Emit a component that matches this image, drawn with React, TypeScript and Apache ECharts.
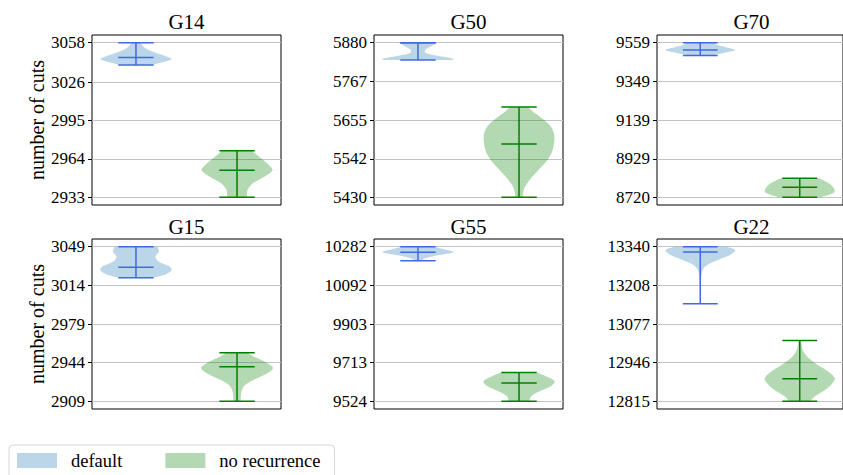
import React, { useEffect, useRef } from "react";
import * as echarts from "echarts";

// ---------- data ----------
const PANEL_NAMES = ["G14", "G50", "G70", "G15", "G55", "G22"];
const SERIES_NAMES = ["default", "no recurrence"];
const POSITIONS = [1, 2];

const TICKS = [
  [2933, 2964, 2995, 3026, 3058],
  [5430, 5542, 5655, 5767, 5880],
  [8720, 8929, 9139, 9349, 9559],
  [2909, 2944, 2979, 3014, 3049],
  [9524, 9713, 9903, 10092, 10282],
  [12815, 12946, 13077, 13208, 13340],
];

// middle line (median) of each violin
const DEFAULT_MID = [3046.1, 5880, 9519.2, 3030.4, 10254.3, 13322];
const NOREC_MID = [2954.8, 5585.2, 8774.3, 2940.3, 9613.5, 12891.6];

// violin profiles: [value, relative half-width], from min to max
const G14_DEFAULT = [[3040, 0.45], [3043, 0.85], [3045, 1.0], [3048, 0.75], [3051, 0.45], [3054, 0.25], [3058, 0.12]];
const G14_NOREC = [[2933, 0.28], [2939, 0.3], [2944.3, 0.45], [2948.4, 0.7], [2952.4, 0.92], [2955.6, 1.0], [2960.5, 0.85], [2965.9, 0.62], [2970.7, 0.42]];
const G50_DEFAULT = [[5829.6, 0.95], [5833.5, 1.0], [5841.2, 0.6], [5849, 0.25], [5858.7, 0.2], [5868.4, 0.35], [5880, 0.55]];
const G50_NOREC = [[5430, 0.1], [5456.2, 0.15], [5480.4, 0.3], [5509.5, 0.55], [5538.6, 0.8], [5567.7, 0.95], [5606.5, 1.0], [5635.6, 0.9], [5659.9, 0.65], [5679.3, 0.4], [5692.8, 0.25]];
const G70_DEFAULT = [[9490.3, 0.35], [9504.8, 0.7], [9519.2, 1.0], [9533.7, 0.75], [9546.3, 0.5], [9559, 0.4]];
const G70_NOREC = [[8720, 0.6], [8741.7, 0.95], [8759.7, 1.0], [8786.9, 0.9], [8805, 0.75], [8823.1, 0.55]];
const G15_DEFAULT = [[3020.8, 0.45], [3023.5, 0.8], [3027.4, 1.0], [3031, 0.95], [3035.5, 0.65], [3040, 0.55], [3044.5, 0.65], [3049, 0.6]];
const G15_NOREC = [[2909, 0.1], [2916.8, 0.12], [2922.8, 0.2], [2927.3, 0.4], [2931.8, 0.7], [2936.3, 0.95], [2940.3, 1.0], [2945.4, 0.75], [2949.9, 0.45], [2952.9, 0.3]];
const G55_DEFAULT = [[10213.7, 0.08], [10225.1, 0.2], [10238.1, 0.5], [10254.3, 1.0], [10269, 0.75], [10282, 0.45]];
const G55_NOREC = [[9524, 0.3], [9550, 0.35], [9574.4, 0.6], [9598.8, 0.9], [9623.2, 1.0], [9647.6, 0.75], [9665.5, 0.5]];
const G22_DEFAULT = [[13146.2, 0.01], [13193.5, 0.02], [13238.6, 0.03], [13261.1, 0.07], [13278, 0.2], [13294.9, 0.5], [13311.8, 0.85], [13328.7, 1.0], [13340, 0.75]];
const G22_NOREC = [[12815, 0.3], [12833, 0.45], [12855.5, 0.75], [12878.1, 0.95], [12895, 1.0], [12917.5, 0.8], [12940, 0.5], [12962.6, 0.25], [12985.1, 0.1], [13007.7, 0.05], [13021.2, 0.04]];

const DEFAULT_PROFILES = [G14_DEFAULT, G50_DEFAULT, G70_DEFAULT, G15_DEFAULT, G55_DEFAULT, G22_DEFAULT];
const NOREC_PROFILES = [G14_NOREC, G50_NOREC, G70_NOREC, G15_NOREC, G55_NOREC, G22_NOREC];

// ---------- style ----------
const FONT = "'Liberation Serif', 'DejaVu Serif', serif";
const FILLS = ["rgba(31,119,180,0.3)", "rgba(0,128,0,0.3)"];
const LINES = ["#4169e1", "#008000"];
const HALF = 0.35;
const CAP = 0.175;
const GRID_LEFT = [92, 374, 657];
const GRID_TOP = [35, 239];
const GRID_W = 189;
const GRID_H = 170;

function smoothProfile(p: number[][]): number[][] {
  const out: number[][] = [];
  const n = p.length;
  const steps = 8;
  for (let i = 0; i < n - 1; i++) {
    const p0 = p[Math.max(0, i - 1)];
    const p1 = p[i];
    const p2 = p[i + 1];
    const p3 = p[Math.min(n - 1, i + 2)];
    for (let s = 0; s < steps; s++) {
      const t = s / steps;
      const t2 = t * t;
      const t3 = t2 * t;
      const f = (a: number, b: number, c: number, d: number) =>
        0.5 * (2 * b + (-a + c) * t + (2 * a - 5 * b + 4 * c - d) * t2 + (-a + 3 * b - 3 * c + d) * t3);
      out.push([f(p0[0], p1[0], p2[0], p3[0]), Math.max(0.004, f(p0[1], p1[1], p2[1], p3[1]))]);
    }
  }
  out.push(p[n - 1]);
  return out;
}

function makeRender(profile: number[][], mid: number, pos: number, lineColor: string, fill: string) {
  return (_params: any, api: any) => {
    const pts = smoothProfile(profile);
    const right = pts.map(([v, w]) => api.coord([pos + HALF * w, v]));
    const left = pts.slice().reverse().map(([v, w]) => api.coord([pos - HALF * w, v]));
    const vmin = profile[0][0];
    const vmax = profile[profile.length - 1][0];
    const line = (x1: number, y1: number, x2: number, y2: number) => {
      const a = api.coord([x1, y1]);
      const b = api.coord([x2, y2]);
      return {
        type: "line",
        shape: { x1: a[0], y1: a[1], x2: b[0], y2: b[1] },
        style: { stroke: lineColor, lineWidth: 1.5 },
      };
    };
    return {
      type: "group",
      children: [
        { type: "polygon", shape: { points: right.concat(left) }, style: { fill, stroke: "none" } },
        line(pos, vmin, pos, vmax),
        line(pos - CAP, vmin, pos + CAP, vmin),
        line(pos - CAP, vmax, pos + CAP, vmax),
        line(pos - CAP, mid, pos + CAP, mid),
      ],
    };
  };
}

export default function App() {
  const ref = useRef<HTMLDivElement>(null);
  useEffect(() => {
    if (!ref.current) return;
    const chart = echarts.init(ref.current, null, { renderer: "svg" });
    const grids: any[] = [];
    const xAxes: any[] = [];
    const yAxes: any[] = [];
    const series: any[] = [];
    const graphics: any[] = [];
    PANEL_NAMES.forEach((name, i) => {
      const col = i % 3;
      const row = Math.floor(i / 3);
      const ticks = TICKS[i];
      const lo = ticks[0];
      const hi = ticks[ticks.length - 1];
      const pad = (hi - lo) * 0.05;
      grids.push({
        left: GRID_LEFT[col],
        top: GRID_TOP[row],
        width: GRID_W,
        height: GRID_H,
        show: true,
        borderColor: "#000",
        borderWidth: 1,
        backgroundColor: "transparent",
      });
      xAxes.push({
        gridIndex: i,
        type: "value",
        min: 0.565,
        max: 2.435,
        axisLine: { show: false },
        axisTick: { show: false },
        axisLabel: { show: false },
        splitLine: { show: false },
      });
      yAxes.push({
        gridIndex: i,
        type: "value",
        min: lo - pad,
        max: hi + pad,
        name: col === 0 ? "number of cuts" : "",
        nameLocation: "middle",
        nameRotate: 90,
        nameGap: 45,
        nameTextStyle: { fontFamily: FONT, fontSize: 20, color: "#000" },
        axisLine: { show: false },
        axisTick: { show: true, length: 4, customValues: ticks, lineStyle: { color: "#000", width: 1 } },
        axisLabel: {
          show: true,
          customValues: ticks,
          margin: 7,
          fontFamily: FONT,
          fontSize: 17,
          color: "#000",
          formatter: (v: number) => String(v),
        },
        splitLine: { show: true, lineStyle: { color: "#c4c4c4", width: 1.2 } },
      });
      const profs = [DEFAULT_PROFILES[i], NOREC_PROFILES[i]];
      const mids = [DEFAULT_MID[i], NOREC_MID[i]];
      [0, 1].forEach((k) => {
        series.push({
          type: "custom",
          name: SERIES_NAMES[k],
          xAxisIndex: i,
          yAxisIndex: i,
          itemStyle: { color: FILLS[k] },
          data: [[POSITIONS[k], mids[k]]],
          renderItem: makeRender(profs[k], mids[k], POSITIONS[k], LINES[k], FILLS[k]),
          z: 3,
        });
      });
      graphics.push({
        type: "text",
        x: GRID_LEFT[col] + GRID_W / 2,
        y: row === 0 ? 22 : 227,
        style: {
          text: name,
          align: "center",
          verticalAlign: "middle",
          fontFamily: FONT,
          fontSize: 21,
          fill: "#000",
        },
      });
    });
    chart.setOption({
      animation: false,
      backgroundColor: "#fff",
      grid: grids,
      xAxis: xAxes,
      yAxis: yAxes,
      series,
      graphic: graphics,
      legend: {
        data: SERIES_NAMES,
        left: 9,
        top: 445,
        orient: "horizontal",
        icon: "rect",
        itemWidth: 40,
        itemHeight: 15,
        itemGap: 43,
        padding: [6, 14, 14, 8],
        borderColor: "#d6d6d6",
        borderWidth: 1,
        borderRadius: 4,
        backgroundColor: "#fff",
        textStyle: { fontFamily: FONT, fontSize: 18.5, color: "#000", padding: [0, 0, 0, 9] },
      },
    });
    return () => chart.dispose();
  }, []);
  return <div ref={ref} style={{ position: "fixed", left: 0, top: 0, width: 843, height: 475 }} />;
}
